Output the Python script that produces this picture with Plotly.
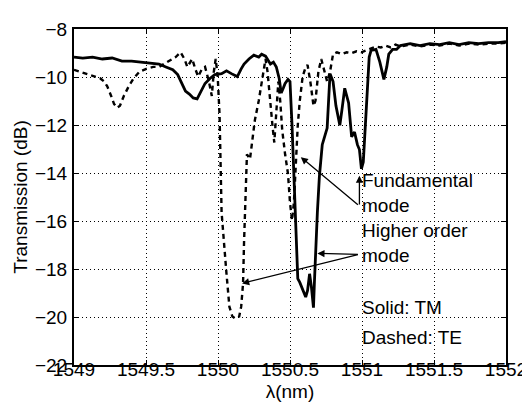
import plotly.graph_objects as go

# Solid: TM
tm_wl = [1549.000, 1549.061, 1549.129, 1549.197, 1549.265, 1549.333, 1549.400, 1549.455, 1549.502, 1549.550,
         1549.590, 1549.638, 1549.686, 1549.720, 1549.747, 1549.774, 1549.801, 1549.828, 1549.855, 1549.882,
         1549.910, 1549.944, 1549.978, 1550.025, 1550.059, 1550.093, 1550.134, 1550.161, 1550.181, 1550.215,
         1550.249, 1550.283, 1550.303, 1550.330, 1550.364, 1550.385, 1550.405, 1550.425, 1550.439, 1550.453,
         1550.466, 1550.486, 1550.500, 1550.514, 1550.534, 1550.554, 1550.568, 1550.588, 1550.609, 1550.622,
         1550.636, 1550.649, 1550.663, 1550.670, 1550.677, 1550.690, 1550.704, 1550.724, 1550.744, 1550.758,
         1550.778, 1550.799, 1550.819, 1550.846, 1550.860, 1550.880, 1550.907, 1550.928, 1550.948, 1550.968,
         1550.982, 1550.996, 1551.009, 1551.023, 1551.036, 1551.050, 1551.063, 1551.097, 1551.124, 1551.152,
         1551.172, 1551.186, 1551.213, 1551.240, 1551.267, 1551.335, 1551.403, 1551.471, 1551.539, 1551.606,
         1551.674, 1551.742, 1551.810, 1551.878, 1551.946, 1552.000]
tm_db = [-9.17, -9.21, -9.17, -9.25, -9.21, -9.34, -9.34, -9.38, -9.42, -9.46,
         -9.46, -9.58, -9.70, -9.90, -10.23, -10.59, -10.71, -10.87, -10.91, -10.59,
         -10.27, -10.06, -9.90, -9.86, -9.74, -9.86, -9.98, -9.66, -9.46, -9.25,
         -9.09, -9.17, -9.05, -9.13, -9.46, -9.38, -9.58, -10.06, -10.67, -10.47,
         -10.27, -10.10, -10.19, -12.01, -15.65, -18.40, -18.56, -18.89, -19.17, -18.89,
         -18.20, -18.77, -19.61, -18.48, -17.27, -15.65, -14.15, -12.82, -12.41, -12.13,
         -9.86, -10.19, -11.20, -12.01, -11.40, -10.47, -11.08, -12.49, -12.29, -12.82,
         -13.02, -13.83, -13.54, -12.01, -10.39, -9.17, -8.89, -8.85, -9.38, -10.10,
         -9.58, -9.05, -8.85, -8.85, -8.69, -8.61, -8.69, -8.61, -8.65, -8.57,
         -8.65, -8.57, -8.61, -8.57, -8.57, -8.53]

# Dashed: TE
te_wl = [1549.000, 1549.041, 1549.095, 1549.143, 1549.183, 1549.210, 1549.231, 1549.258, 1549.278, 1549.299,
         1549.319, 1549.346, 1549.380, 1549.414, 1549.455, 1549.502, 1549.550, 1549.590, 1549.638, 1549.672,
         1549.706, 1549.740, 1549.767, 1549.787, 1549.808, 1549.821, 1549.842, 1549.862, 1549.889, 1549.910,
         1549.937, 1549.957, 1549.971, 1549.984, 1549.998, 1550.011, 1550.025, 1550.045, 1550.059, 1550.079,
         1550.100, 1550.120, 1550.147, 1550.161, 1550.174, 1550.181, 1550.195, 1550.201, 1550.222, 1550.235,
         1550.256, 1550.283, 1550.303, 1550.330, 1550.344, 1550.358, 1550.378, 1550.391, 1550.405, 1550.419,
         1550.432, 1550.446, 1550.466, 1550.486, 1550.500, 1550.514, 1550.527, 1550.541, 1550.554, 1550.568,
         1550.588, 1550.609, 1550.622, 1550.643, 1550.663, 1550.677, 1550.697, 1550.717, 1550.738, 1550.758,
         1550.778, 1550.799, 1550.826, 1550.860, 1550.894, 1550.928, 1550.962, 1550.996, 1551.029, 1551.063,
         1551.097, 1551.131, 1551.165, 1551.199, 1551.233, 1551.267, 1551.335, 1551.403, 1551.471, 1551.539,
         1551.606, 1551.674, 1551.742, 1551.810, 1551.878, 1551.946, 1552.000]
te_db = [-9.70, -9.78, -9.90, -9.98, -10.06, -10.19, -10.39, -10.79, -11.12, -11.28,
         -11.20, -10.79, -10.39, -10.06, -9.78, -9.66, -9.58, -9.58, -9.42, -9.30,
         -9.17, -8.97, -9.25, -9.58, -9.38, -9.25, -9.66, -9.98, -9.66, -9.58,
         -10.19, -10.79, -9.78, -9.25, -9.98, -11.60, -15.65, -17.27, -18.20, -19.57,
         -19.98, -20.06, -19.98, -19.57, -18.60, -16.86, -14.15, -13.22, -13.42, -12.82,
         -11.80, -10.99, -10.19, -9.25, -9.78, -10.79, -12.01, -12.73, -11.40, -10.19,
         -10.99, -12.21, -13.22, -14.03, -15.24, -15.97, -15.24, -13.22, -12.01, -10.99,
         -9.98, -9.58, -9.50, -10.27, -11.20, -10.99, -9.78, -9.25, -9.78, -10.19,
         -9.78, -9.05, -8.97, -9.05, -8.97, -9.01, -8.93, -8.97, -8.89, -8.81,
         -8.73, -8.77, -8.69, -8.77, -8.65, -8.73, -8.65, -8.73, -8.65, -8.69,
         -8.61, -8.69, -8.61, -8.65, -8.61, -8.61, -8.57]

x_ticks = [1549, 1549.5, 1550, 1550.5, 1551, 1551.5, 1552]
y_ticks = [-22, -20, -18, -16, -14, -12, -10, -8]

FONT = "Liberation Sans, Arial, sans-serif"
FS = 19

fig = go.Figure()
fig.add_trace(go.Scatter(x=tm_wl, y=tm_db, mode="lines",
                         line=dict(color="black", width=2.8), showlegend=False))
fig.add_trace(go.Scatter(x=te_wl, y=te_db, mode="lines",
                         line=dict(color="black", width=2.4, dash="5px,4px"), showlegend=False))

ann = []
# text labels
for txt, yv in [("Fundamental<br>mode", -14.85), ("Higher order<br>mode", -16.92),
                ("Solid: TM", -19.60), ("Dashed: TE", -20.85)]:
    ann.append(dict(x=1550.988, y=yv, xref="x", yref="y", text=txt, showarrow=False,
                    xanchor="left", yanchor="middle", align="left",
                    font=dict(family=FONT, size=FS, color="black")))
# arrows: (head_x, head_y, tail_x, tail_y)
arrows = [(1550.575, -13.34, 1550.982, -15.37),
          (1550.982, -14.11, 1550.982, -15.37),
          (1550.690, -17.35, 1550.982, -17.39),
          (1550.167, -18.60, 1550.982, -17.39)]
for hx, hy, tx, ty in arrows:
    ann.append(dict(x=hx, y=hy, ax=tx, ay=ty, xref="x", yref="y", axref="x", ayref="y",
                    text="", showarrow=True, arrowhead=2, arrowsize=1.1, arrowwidth=1.3,
                    arrowcolor="black", standoff=0, startstandoff=0))

axis_common = dict(showline=True, linecolor="black", linewidth=2, mirror="ticks",
                   ticks="inside", ticklen=5, tickwidth=1, tickcolor="black",
                   showgrid=True, gridcolor="black", gridwidth=1, griddash="1px,3px",
                   zeroline=False, tickfont=dict(family=FONT, size=FS, color="black"))

fig.update_layout(
    width=530, height=408,
    margin=dict(l=66, r=22, t=11, b=51),
    paper_bgcolor="white", plot_bgcolor="white",
    font=dict(family=FONT, size=FS, color="black"),
    xaxis=dict(range=[1549, 1552], tickvals=x_ticks, ticktext=[str(v) for v in x_ticks],
               ticklabelstandoff=-14,
               title=dict(text="λ(nm)", font=dict(family=FONT, size=FS), standoff=6),
               **axis_common),
    yaxis=dict(range=[-22, -8], tickvals=y_ticks, ticklabelstandoff=1,
               title=dict(text="Transmission (dB)", font=dict(family=FONT, size=FS), standoff=2),
               **axis_common),
    annotations=ann,
)
fig.write_html("out.html")
